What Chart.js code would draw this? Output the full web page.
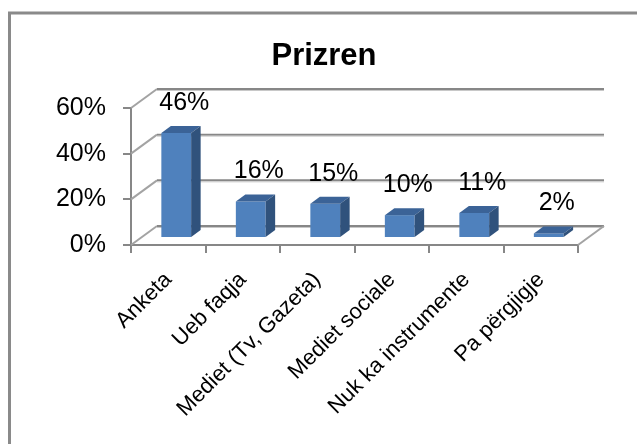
<!DOCTYPE html>
<html>
<head>
<meta charset="utf-8">
<script src="https://cdn.jsdelivr.net/npm/chart.js@4.4.1/dist/chart.umd.min.js"></script>
<style>
  html, body { margin: 0; padding: 0; background: #fff; overflow: hidden; }
  #wrap { position: relative; width: 637px; height: 444px; }
</style>
</head>
<body>
<div id="wrap"><canvas id="chart"></canvas></div>
<script>
// data
var categories = ["Anketa", "Ueb faqja", "Mediet (Tv, Gazeta)", "Mediet sociale", "Nuk ka instrumente", "Pa përgjigje"];
var shares = [46, 16, 15, 10, 11, 2];
var chartTitle = "Prizren";

var FONT = "'Liberation Sans Narrow', 'Arial Narrow', 'Liberation Sans', sans-serif";
var WALL = {dx: 26, dy: -19};   // depth of the floor / back wall
var SHIFT = {dx: 8, dy: -7};    // where the bar front sits inside the depth
var DEPTH = {dx: 9.5, dy: -7};  // depth of one bar

// draws the frame, title, side wall and back grid (Excel 3D look)
var wallPlugin = {
    id: "wall",
    beforeDraw: function(chart) {
        var ctx = chart.ctx;
        ctx.save();
        ctx.strokeStyle = "#8a8a8a";
        ctx.lineWidth = 3;
        ctx.strokeRect(9.5, 13, 700, 500);
        ctx.fillStyle = "#000";
        ctx.font = "bold 31px " + FONT;
        ctx.textAlign = "center";
        ctx.textBaseline = "middle";
        ctx.fillText(chartTitle, 324, 56);
        ctx.restore();
    },
    beforeDatasetsDraw: function(chart) {
        var ctx = chart.ctx, a = chart.chartArea, y = chart.scales.y;
        ctx.save();
        y.ticks.forEach(function(t) {
            var py = y.getPixelForValue(t.value);
            // side wall diagonal
            ctx.strokeStyle = "#a3a3a3";
            ctx.lineWidth = 2;
            ctx.beginPath();
            ctx.moveTo(a.left, py);
            ctx.lineTo(a.left + WALL.dx, py + WALL.dy);
            ctx.stroke();
            // back wall line
            ctx.strokeStyle = "#878787";
            ctx.lineWidth = 2;
            ctx.beginPath();
            ctx.moveTo(a.left + WALL.dx, py + WALL.dy);
            ctx.lineTo(a.right + WALL.dx, py + WALL.dy);
            ctx.stroke();
            ctx.strokeStyle = "#c8c8c8";
            ctx.lineWidth = 1;
            ctx.beginPath();
            ctx.moveTo(a.left + WALL.dx, py + WALL.dy + 1.5);
            ctx.lineTo(a.right + WALL.dx, py + WALL.dy + 1.5);
            ctx.stroke();
        });
        // right floor edge
        ctx.strokeStyle = "#a3a3a3";
        ctx.lineWidth = 2;
        ctx.beginPath();
        ctx.moveTo(a.right, a.bottom);
        ctx.lineTo(a.right + WALL.dx, a.bottom + WALL.dy);
        ctx.stroke();
        ctx.restore();

        ctx.save();
        ctx.translate(SHIFT.dx, SHIFT.dy);
    },
    afterDatasetsDraw: function(chart) {
        var ctx = chart.ctx;
        var meta = chart.getDatasetMeta(0);
        meta.data.forEach(function(bar) {
            var p = bar.getProps(["x", "y", "base", "width"], true);
            var x0 = p.x - p.width / 2, x1 = p.x + p.width / 2;
            ctx.fillStyle = "#3b6397";
            ctx.beginPath();
            ctx.moveTo(x0, p.y);
            ctx.lineTo(x0 + DEPTH.dx, p.y + DEPTH.dy);
            ctx.lineTo(x1 + DEPTH.dx, p.y + DEPTH.dy);
            ctx.lineTo(x1, p.y);
            ctx.closePath();
            ctx.fill();
            ctx.fillStyle = "#30527c";
            ctx.beginPath();
            ctx.moveTo(x1, p.y);
            ctx.lineTo(x1 + DEPTH.dx, p.y + DEPTH.dy);
            ctx.lineTo(x1 + DEPTH.dx, p.base + DEPTH.dy);
            ctx.lineTo(x1, p.base);
            ctx.closePath();
            ctx.fill();
        });
        ctx.restore();

        // value labels
        ctx.save();
        ctx.fillStyle = "#000";
        ctx.font = "25px " + FONT;
        ctx.textAlign = "center";
        ctx.textBaseline = "middle";
        meta.data.forEach(function(bar, i) {
            var p = bar.getProps(["x", "y"], true);
            ctx.fillText(shares[i] + "%", p.x + 16, p.y - 37);
        });
        ctx.restore();
    }
};

var chart = new Chart(document.getElementById("chart"), {
    type: "bar",
    data: {
        labels: categories,
        datasets: [{
            data: shares,
            backgroundColor: "#4f81bd",
            borderWidth: 0,
            categoryPercentage: 1.0,
            barPercentage: 0.4,
        }]
    },
    options: {
        responsive: true,
        maintainAspectRatio: false,
        animation: false,
        events: [],
        layout: { padding: { top: 108, right: 59, left: 0, bottom: 0 } },
        plugins: {
            legend: { display: false },
            title: { display: false },
            tooltip: { enabled: false },
        },
        scales: {
            x: {
                grid: { offset: true, drawOnChartArea: false, drawTicks: true, tickLength: 8, color: "#878787", lineWidth: 2 },
                border: { color: "#878787", width: 2 },
                ticks: { maxRotation: 45, minRotation: 45, padding: 14, color: "#000", font: { family: FONT, size: 22 } },
                afterFit: function(s) { s.height = 444 - 245; }
            },
            y: {
                min: 0,
                max: 60,
                grid: { drawOnChartArea: false, drawTicks: true, tickLength: 8, color: "#878787", lineWidth: 2 },
                border: { color: "#878787", width: 2 },
                ticks: { stepSize: 20, padding: 17, color: "#000", font: { family: FONT, size: 25 },
                         callback: function(v) { return v + "%"; } },
                afterFit: function(s) { s.width = 131; }
            }
        }
    },
    plugins: [wallPlugin]
});
</script>
</body>
</html>
